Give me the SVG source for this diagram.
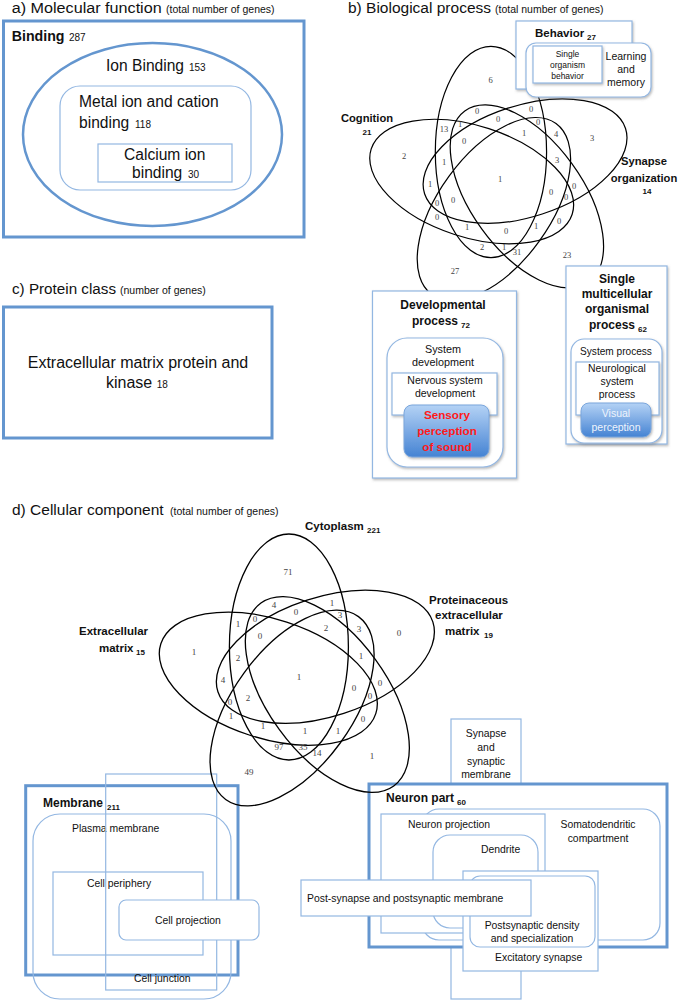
<svg xmlns="http://www.w3.org/2000/svg" width="679" height="1000" viewBox="0 0 679 1000">
<defs>
<style>
text{font-family:"Liberation Sans",Arial,sans-serif;fill:#111}
.t{font-size:15.5px}
.tp{font-size:10.5px}
.thick{fill:none;stroke:#6496cf;stroke-width:3}
.thickw{fill:#fff;stroke:#6496cf;stroke-width:3}
.thin{fill:none;stroke:#93b7e2;stroke-width:1.2}
.thinw{fill:#fff;stroke:#93b7e2;stroke-width:1.2}
.b{font-weight:bold}
.c{text-anchor:middle}
.nb text{font-family:"Liberation Serif","Times New Roman",serif;font-size:8.5px;fill:#444;text-anchor:middle}
.nd text{font-family:"Liberation Serif","Times New Roman",serif;font-size:9px;fill:#444;text-anchor:middle}
.lab{font-size:10.4px}
.red{fill:#ff1a1a;font-weight:bold;font-size:11.7px;text-anchor:middle}
.lt{fill:#eef4fc;font-size:10.5px;text-anchor:middle}
</style>
<linearGradient id="gblue" x1="0" y1="0" x2="0" y2="1">
<stop offset="0" stop-color="#b4d2f5"/>
<stop offset="1" stop-color="#4583d3"/>
</linearGradient>
<filter id="sh" x="-10%" y="-10%" width="130%" height="130%">
<feDropShadow dx="1" dy="1.5" stdDeviation="1" flood-color="#777" flood-opacity="0.5"/>
</filter>
<g id="venn5" fill="none" stroke="#000" stroke-width="1.3">
<ellipse cx="-11.5" cy="-30" rx="59.5" ry="113"/>
<ellipse cx="-11.5" cy="-30" rx="59.5" ry="113" transform="rotate(72)"/>
<ellipse cx="-11.5" cy="-30" rx="59.5" ry="113" transform="rotate(144)"/>
<ellipse cx="-11.5" cy="-30" rx="59.5" ry="113" transform="rotate(216)"/>
<ellipse cx="-11.5" cy="-30" rx="59.5" ry="113" transform="rotate(288)"/>
</g>
</defs>
<rect width="679" height="1000" fill="#fff"/>

<!-- Panel a -->
<g id="panel-a">
<text x="11.7" y="12.7" class="t" textLength="150" lengthAdjust="spacingAndGlyphs">a) Molecular function</text>
<text x="166" y="12.7" class="tp">(total number of genes)</text>
<g id="binding">
<rect x="3.5" y="21" width="300.5" height="216" class="thick"/>
<text x="11.7" y="40.7" class="b" font-size="14.2">Binding</text>
<text x="69" y="40.7" font-size="10">287</text>
</g>
<g id="ion-binding">
<ellipse cx="152.5" cy="134.5" rx="129.5" ry="91.5" fill="none" stroke="#6496cf" stroke-width="2.5"/>
<text x="106" y="70.7" font-size="15.6">Ion Binding</text>
<text x="189" y="70.7" font-size="10">153</text>
</g>
<g id="metal-ion">
<rect x="60" y="86" width="191" height="104" rx="20" class="thin"/>
<text x="79" y="107" font-size="15.6">Metal ion and cation</text>
<text x="79" y="128" font-size="15.6">binding</text>
<text x="135" y="128" font-size="10">118</text>
</g>
<g id="calcium-ion">
<rect x="98" y="144" width="134" height="38" class="thin"/>
<text x="124" y="159.5" font-size="15.6">Calcium ion</text>
<text x="132" y="178" font-size="15.6">binding</text>
<text x="188" y="178" font-size="10">30</text>
</g>
</g>

<!-- Panel c -->
<g id="panel-c">
<text x="12" y="294" class="t" textLength="104" lengthAdjust="spacingAndGlyphs">c) Protein class</text>
<text x="120" y="294" class="tp">(number of genes)</text>
<g id="protein-class">
<rect x="3.5" y="307" width="268.5" height="131" class="thick"/>
<text x="138" y="368" font-size="16" class="c">Extracellular matrix protein and</text>
<text x="106" y="388" font-size="16">kinase</text>
<text x="156.7" y="388" font-size="10">18</text>
</g>
</g>

<!-- Panel b -->
<g id="panel-b">
<text x="348" y="13.3" class="t">b) Biological process</text>
<text x="495" y="13.3" class="tp">(total number of genes)</text>
<g id="venn-b">
<use href="#venn5" transform="translate(501.7,180) scale(0.935)"/>
</g>
<g id="counts-b" class="nb">
<text x="490.7" y="83">6</text>
<text x="477" y="114">0</text>
<text x="531" y="112">0</text>
<text x="498" y="122">0</text>
<text x="538" y="125">0</text>
<text x="444" y="132">13</text>
<text x="460" y="127">1</text>
<text x="524" y="136">1</text>
<text x="556" y="137">4</text>
<text x="592" y="141">3</text>
<text x="464" y="144">0</text>
<text x="404" y="159">2</text>
<text x="444" y="165">1</text>
<text x="557" y="163">3</text>
<text x="500" y="182">1</text>
<text x="430" y="187">1</text>
<text x="574" y="189">0</text>
<text x="551" y="195">0</text>
<text x="566" y="200">0</text>
<text x="437" y="206">0</text>
<text x="453" y="203">0</text>
<text x="437" y="220">0</text>
<text x="559" y="224">0</text>
<text x="467" y="230">1</text>
<text x="506" y="234">0</text>
<text x="536" y="229">1</text>
<text x="482" y="250">2</text>
<text x="504" y="250">1</text>
<text x="517" y="255">31</text>
<text x="567" y="258">23</text>
<text x="455" y="274">27</text>
</g>
<g id="cognition">
<text x="367" y="121.7" class="b c" font-size="11.2">Cognition</text>
<text x="367" y="135" class="b c" font-size="8">21</text>
</g>
<g id="synapse-organization">
<text x="644" y="165" class="b c" font-size="11.2">Synapse</text>
<text x="644" y="182" class="b c" font-size="11.2">organization</text>
<text x="647" y="193.5" class="b c" font-size="8">14</text>
</g>
<g id="behavior">
<rect x="516" y="21" width="116" height="68" class="thinw" filter="url(#sh)"/>
<text x="535" y="36.7" class="b" font-size="11.5">Behavior</text>
<text x="587" y="39.5" class="b" font-size="8">27</text>
<g id="learning-memory">
<rect x="526" y="43" width="125" height="54" rx="10" class="thinw" filter="url(#sh)"/>
<text class="c" font-size="10.5"><tspan x="626" y="60">Learning</tspan><tspan x="626" y="73">and</tspan><tspan x="626" y="86">memory</tspan></text>
</g>
<g id="single-organism-behavior">
<rect x="533" y="46" width="69" height="37" class="thinw" filter="url(#sh)"/>
<text class="c" font-size="8.5"><tspan x="567.5" y="57">Single</tspan><tspan x="567.5" y="68">organism</tspan><tspan x="567.5" y="79">behavior</tspan></text>
</g>
</g>
<g id="developmental">
<rect x="372.5" y="291" width="144" height="187" class="thinw" filter="url(#sh)"/>
<text x="443" y="309" class="b c" font-size="12">Developmental</text>
<text x="412" y="325" class="b" font-size="12">process</text>
<text x="461" y="327.5" class="b" font-size="8">72</text>
<g id="system-development">
<rect x="387" y="338" width="116" height="129" rx="20" class="thinw" filter="url(#sh)"/>
<text class="c" font-size="10.8"><tspan x="443" y="353">System</tspan><tspan x="443" y="366">development</tspan></text>
</g>
<g id="nervous-system-development">
<rect x="392" y="373" width="105" height="42" class="thinw" filter="url(#sh)"/>
<text class="c" font-size="10.5"><tspan x="445" y="384">Nervous system</tspan><tspan x="445" y="397">development</tspan></text>
</g>
<g id="sensory-perception">
<rect x="404" y="405" width="85" height="52" rx="8" fill="url(#gblue)" stroke="#7aa6dc" stroke-width="1" filter="url(#sh)"/>
<text class="red"><tspan x="447" y="419">Sensory</tspan><tspan x="447" y="435">perception</tspan><tspan x="447" y="451">of sound</tspan></text>
</g>
</g>
<g id="single-multicellular">
<rect x="566" y="266" width="101" height="178" class="thinw" filter="url(#sh)"/>
<text class="b c" font-size="12"><tspan x="617" y="283">Single</tspan><tspan x="617" y="298">multicellular</tspan><tspan x="617" y="313">organismal</tspan></text>
<text x="589" y="329" class="b" font-size="12">process</text>
<text x="638" y="331.5" class="b" font-size="8">62</text>
<g id="system-process">
<rect x="571" y="339" width="91" height="104" rx="13" class="thinw" filter="url(#sh)"/>
<text x="616" y="355" class="c" font-size="10.1">System process</text>
</g>
<g id="neurological-system-process">
<rect x="576" y="362" width="83" height="53" class="thinw" filter="url(#sh)"/>
<text class="c" font-size="10.4"><tspan x="617" y="372">Neurological</tspan><tspan x="617" y="385">system</tspan><tspan x="617" y="398">process</tspan></text>
</g>
<g id="visual-perception">
<rect x="581" y="403" width="70" height="34" rx="8" fill="url(#gblue)" stroke="#7aa6dc" stroke-width="1" filter="url(#sh)"/>
<text class="lt"><tspan x="616" y="417">Visual</tspan><tspan x="616" y="431">perception</tspan></text>
</g>
</g>
</g>

<!-- Panel d -->
<g id="panel-d">
<text x="12" y="515" class="t">d) Cellular component</text>
<text x="170" y="515" class="tp">(total number of genes)</text>

<g id="membrane">
<rect x="25.7" y="785.7" width="212.3" height="189.3" class="thick"/>
<text x="43" y="807" class="b" font-size="12">Membrane</text>
<text x="107" y="810" class="b" font-size="8">211</text>
</g>
<g id="plasma-membrane">
<rect x="33" y="814" width="198" height="185" rx="27" class="thin"/>
<text x="72" y="832" class="lab">Plasma membrane</text>
</g>
<g id="cell-periphery">
<rect x="53" y="872" width="150" height="83" class="thin"/>
<text x="87" y="887" class="lab">Cell periphery</text>
</g>
<g id="cell-junction">
<rect x="105.7" y="774" width="111" height="216" class="thin"/>
<text x="134" y="982" class="lab">Cell junction</text>
</g>
<g id="cell-projection">
<rect x="119" y="900" width="140" height="40" rx="7" class="thinw"/>
<text x="155" y="924" class="lab">Cell projection</text>
</g>

<g id="synapse-membrane">
<rect x="451" y="719" width="70" height="280" class="thinw"/>
<text class="c lab"><tspan x="486" y="737">Synapse</tspan><tspan x="486" y="751">and</tspan><tspan x="486" y="765">synaptic</tspan><tspan x="486" y="778">membrane</tspan></text>
</g>
<g id="neuron-part">
<rect x="369" y="784" width="298" height="163" class="thickw"/>
<text x="386" y="802" class="b" font-size="12">Neuron part</text>
<text x="457" y="805" class="b" font-size="8">60</text>
</g>
<g id="somatodendritic">
<rect x="422" y="809" width="238" height="131" rx="17" class="thin"/>
<text class="c lab"><tspan x="598" y="828">Somatodendritic</tspan><tspan x="598" y="842">compartment</tspan></text>
</g>
<g id="neuron-projection">
<rect x="381" y="814" width="164" height="119" class="thinw"/>
<text x="408" y="828" class="lab">Neuron projection</text>
</g>
<g id="dendrite">
<rect x="433" y="835" width="105" height="93" rx="17" class="thin"/>
<text x="481" y="853" class="lab">Dendrite</text>
</g>
<g id="excitatory-synapse">
<rect x="463" y="871" width="135" height="100" class="thinw"/>
<text x="495" y="961" class="lab">Excitatory synapse</text>
</g>
<g id="postsynaptic-density">
<rect x="470" y="876" width="125" height="71" rx="10" class="thinw"/>
<text class="c lab"><tspan x="532" y="929">Postsynaptic density</tspan><tspan x="532" y="942">and specialization</tspan></text>
</g>
<g id="post-synapse">
<rect x="301" y="880" width="230" height="36" class="thinw"/>
<text x="307" y="902" class="lab">Post-synapse and postsynaptic membrane</text>
</g>

<g id="venn-d">
<use href="#venn5" transform="translate(300.4,677)"/>
</g>
<g id="counts-d" class="nd">
<text x="288" y="575">71</text>
<text x="274" y="608">4</text>
<text x="332" y="606">1</text>
<text x="296" y="615">0</text>
<text x="238" y="627">1</text>
<text x="255" y="622">0</text>
<text x="340" y="618">3</text>
<text x="260" y="639">0</text>
<text x="326" y="631">2</text>
<text x="359" y="632">3</text>
<text x="399" y="636">0</text>
<text x="194" y="655">1</text>
<text x="238" y="661">2</text>
<text x="299" y="680">1</text>
<text x="223" y="683">4</text>
<text x="230" y="705">0</text>
<text x="248" y="701">2</text>
<text x="354" y="691">0</text>
<text x="361" y="659">1</text>
<text x="380" y="686">0</text>
<text x="370" y="699">0</text>
<text x="363" y="722">0</text>
<text x="231" y="719">1</text>
<text x="263" y="729">1</text>
<text x="305" y="734">1</text>
<text x="338" y="734">1</text>
<text x="279" y="750">97</text>
<text x="303" y="750">35</text>
<text x="317" y="756">14</text>
<text x="249" y="775">49</text>
<text x="372" y="759">1</text>
</g>
<g id="cytoplasm">
<text x="305" y="530" class="b" font-size="11.5">Cytoplasm</text>
<text x="367" y="533" class="b" font-size="8">221</text>
</g>
<g id="extracellular-matrix">
<text x="79" y="635" class="b" font-size="11.5">Extracellular</text>
<text x="99" y="652" class="b" font-size="11.5">matrix</text>
<text x="136" y="655" class="b" font-size="8">15</text>
</g>
<g id="proteinaceous-ecm">
<text x="429" y="604" class="b" font-size="11.5">Proteinaceous</text>
<text x="435" y="619" class="b" font-size="11.5">extracellular</text>
<text x="445" y="635" class="b" font-size="11.5">matrix</text>
<text x="484" y="638" class="b" font-size="8">19</text>
</g>
</g>
</svg>
